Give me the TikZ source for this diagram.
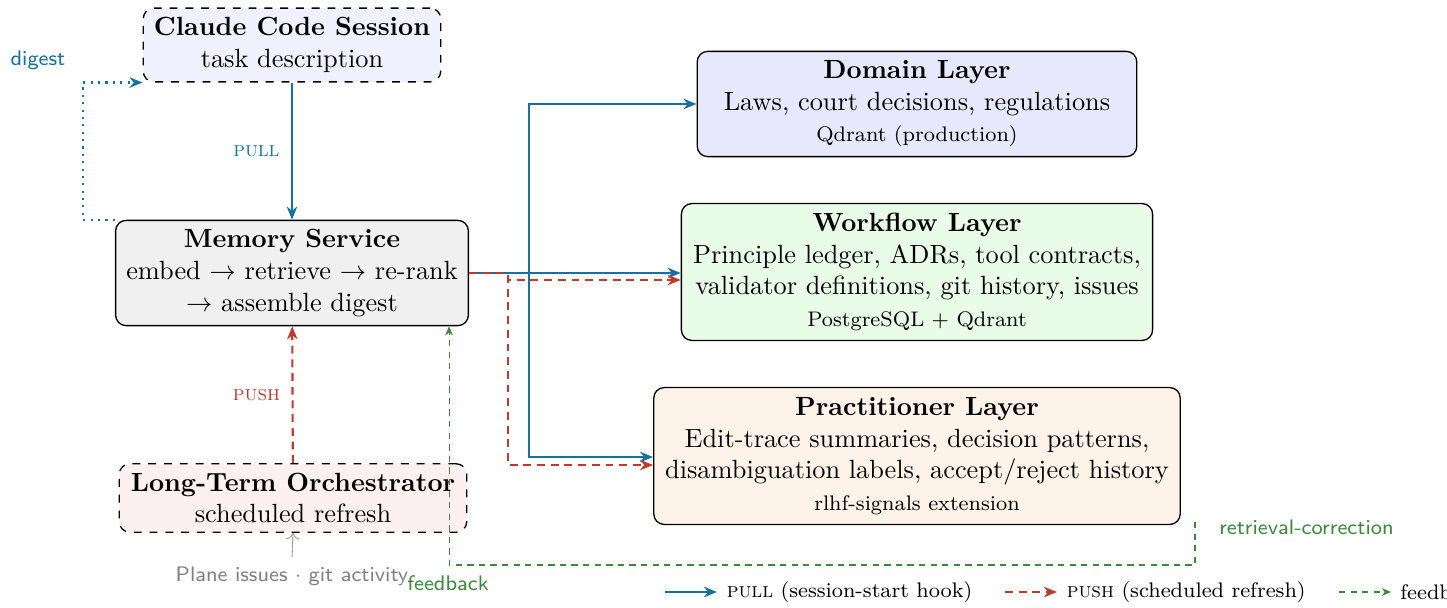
\documentclass[tikz,border=0pt]{standalone}
\usetikzlibrary{arrows.meta,calc}
\definecolor{pullc}{RGB}{22,112,160}
\definecolor{pushc}{RGB}{192,57,43}
\definecolor{fbc}{RGB}{58,138,58}
\definecolor{claudefill}{RGB}{240,240,255}
\definecolor{memfill}{RGB}{240,240,240}
\definecolor{orchfill}{RGB}{253,240,240}
\definecolor{domfill}{RGB}{232,232,252}
\definecolor{wffill}{RGB}{232,252,232}
\definecolor{pracfill}{RGB}{253,243,232}
\tikzset{
  box/.style={draw, rounded corners=4pt, align=center, inner sep=2pt, line width=0.5pt},
  pullarrow/.style={draw=pullc, line width=0.8pt, -{Stealth[length=5pt,width=4pt]}},
  pusharrow/.style={draw=pushc, line width=0.8pt, dash pattern=on 3pt off 2.2pt, -{Stealth[length=5pt,width=4pt]}},
  fbarrow/.style={draw=fbc, line width=0.4pt, dash pattern=on 2.4pt off 2pt, -{Stealth[length=3.5pt,width=3pt]}},
  digarrow/.style={draw=pullc, line width=0.8pt, dotted, -{Stealth[length=5pt,width=4pt]}},
  grayarrow/.style={draw=gray!70, line width=0.4pt, -{To[length=2.5pt]}},
  sclbl/.style={font=\footnotesize},
  sanslbl/.style={font=\footnotesize\sffamily}
}
\begin{document}
\begin{tikzpicture}[x=0.013356cm,y=-0.013356cm]
\useasboundingbox (0,0) rectangle (1447,607);

\node[box, dashed, fill=claudefill, minimum width=113pt, minimum height=28pt] (claude) at (292,45)
  {\textbf{Claude Code Session}\\task description};
\node[box, fill=memfill, minimum width=134pt, minimum height=40pt] (mem) at (292,273)
  {\textbf{Memory Service}\\embed $\rightarrow$ retrieve $\rightarrow$ re-rank\\$\rightarrow$ assemble digest};
\node[box, dashed, fill=orchfill, minimum width=132pt, minimum height=26pt] (orch) at (293,498)
  {\textbf{Long-Term Orchestrator}\\scheduled refresh};
\node[box, fill=domfill, minimum width=167pt, minimum height=40pt] (dom) at (917,104)
  {\textbf{Domain Layer}\\Laws, court decisions, regulations\\{\footnotesize Qdrant (production)}};
\node[box, fill=wffill, minimum width=179pt, minimum height=52pt] (wf) at (917,272)
  {\textbf{Workflow Layer}\\Principle ledger, ADRs, tool contracts,\\validator definitions, git history, issues\\{\footnotesize PostgreSQL + Qdrant}};
\node[box, fill=pracfill, minimum width=200pt, minimum height=52pt] (prac) at (917,456)
  {\textbf{Practitioner Layer}\\Edit-trace summaries, decision patterns,\\disambiguation labels, accept/reject history\\{\footnotesize rlhf-signals extension}};

% pull
\draw[pullarrow] (claude) -- (mem) node[midway, left, sclbl, text=pullc, xshift=-1pt] {\textsc{pull}};
% digest
\draw[digarrow] (mem.north west) -- ++(-32,0) |- (claude.south west);
\node[sanslbl, text=pullc] (diglbl) at (38,60) {digest};

% memory to layers
\draw[pullarrow] (mem.east) -- (wf.west |- mem.east);
\draw[pullarrow] (mem.east) -- ++(60,0) |- (dom.west);
\draw[pullarrow] (mem.east) -- ++(60,0) |- ($(prac.west)+(0,1)$);
\draw[pusharrow] (mem.east) -- ++(39,0) |- ($(wf.west)+(0,8)$);
\draw[pusharrow] (mem.east) -- ++(39,0) |- ($(prac.west)+(0,9)$);

% push
\draw[pusharrow] (orch) -- (mem) node[midway, left, sclbl, text=pushc, xshift=-1pt] {\textsc{push}};

% external input
\node[sanslbl, text=gray] (plane) at (292,576) {Plane issues $\cdot$ git activity};
\draw[grayarrow] (plane.north) -- (orch.south);

% feedback
\coordinate (fbstart) at (1195,522);
\draw[fbarrow] (fbstart) -- ++(0,43) -| ($(mem.south east)+(-20,0)$);
\node[sanslbl, text=fbc, anchor=west] (rclbl) at (1210,527) {retrieval-correction};
\node[sanslbl, text=fbc] (fblbl) at (448,583) {feedback};

% legend
\coordinate (l1) at (665,592);
\draw[pullarrow] (l1) -- ++(52,0) node[right, sclbl, text=black] (lg1) {\textsc{pull} (session-start hook)};
\coordinate (l2) at (1005,592);
\draw[pusharrow] (l2) -- ++(52,0) node[right, sclbl, text=black] (lg2) {\textsc{push} (scheduled refresh)};
\coordinate (l3) at (1339,592);
\draw[fbarrow] (l3) -- ++(52,0) node[right, sclbl, text=black] (lg3) {feedback};
\end{tikzpicture}
\end{document}
